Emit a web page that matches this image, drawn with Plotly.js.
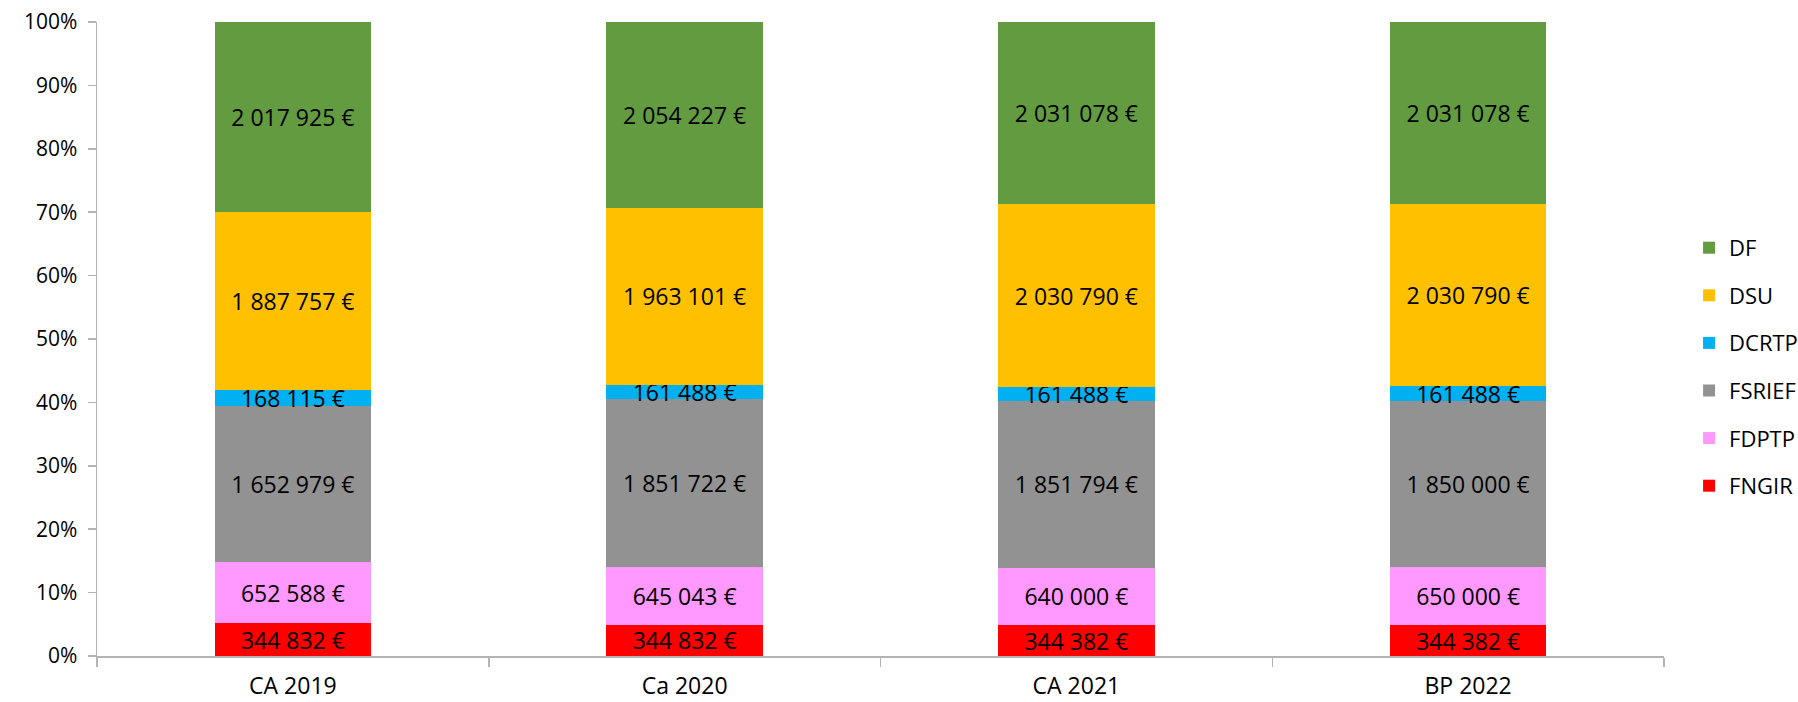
<!DOCTYPE html>
<html>
<head>
<meta charset="utf-8">
<script src="https://cdn.plot.ly/plotly-3.0.1.min.js"></script>
<style>html,body{margin:0;padding:0;background:#fff;}#chart{width:1798px;height:702px;}</style>
</head>
<body>
<div id="chart"></div>
<script>
const categories = ["CA 2019", "Ca 2020", "CA 2021", "BP 2022"];
const seriesNames = ["FNGIR", "FDPTP", "FSRIEF", "DCRTP", "DSU", "DF"];
const FNGIR  = [344832, 344832, 344382, 344382];
const FDPTP  = [652588, 645043, 640000, 650000];
const FSRIEF = [1652979, 1851722, 1851794, 1850000];
const DCRTP  = [168115, 161488, 161488, 161488];
const DSU    = [1887757, 1963101, 2030790, 2030790];
const DF     = [2017925, 2054227, 2031078, 2031078];
const seriesValues = [FNGIR, FDPTP, FSRIEF, DCRTP, DSU, DF];
const colors = ["#ff0000", "#ff99ff", "#929292", "#00b0f0", "#ffc000", "#629b40"];

function fmt(v) {
  return v.toString().replace(/\B(?=(\d{3})+(?!\d))/g, "\u00a0") + "\u00a0€";
}

const FONT = "Open Sans, Noto Sans, sans-serif";
const traces = seriesNames.map((name, i) => ({
  type: "bar",
  name: name,
  x: categories,
  y: seriesValues[i],
  text: seriesValues[i].map(fmt),
  textposition: "inside",
  insidetextanchor: "middle",
  constraintext: "none",
  textangle: 0,
  textfont: {family: FONT, size: 23, color: "#000"},
  marker: {color: colors[i], line: {width: 0}},
  legendgroup: name,
  legendrank: seriesNames.length - i,
  hoverinfo: "none"
}));

const layout = {
  width: 1798, height: 702,
  barmode: "stack",
  barnorm: "percent",
  bargap: 0.6,
  margin: {l: 97, r: 134, t: 22, b: 46, autoexpand: false},
  paper_bgcolor: "#fff",
  plot_bgcolor: "#fff",
  font: {family: FONT, size: 21, color: "#000"},
  showlegend: true,
  legend: {
    traceorder: "grouped",
    tracegroupgap: 16,
    x: 1.016, xanchor: "left",
    y: 0.456, yanchor: "middle",
    font: {family: FONT, size: 22, color: "#000"},
    itemwidth: 30
  },
  xaxis: {
    type: "category",
    automargin: false,
    showline: true, linecolor: "#b3b3b3", linewidth: 1.5,
    ticks: "outside", tickson: "boundaries", ticklen: 9, tickcolor: "#b3b3b3", tickwidth: 1.5,
    showgrid: false, zeroline: false,
    tickfont: {family: FONT, size: 23, color: "#000"},
    ticklabelstandoff: 9
  },
  yaxis: {
    range: [0, 100],
    automargin: false,
    dtick: 10,
    ticksuffix: "%",
    showline: true, linecolor: "#b3b3b3", linewidth: 1.5,
    ticks: "outside", ticklen: 8, tickcolor: "#b3b3b3", tickwidth: 1.5,
    showgrid: false, zeroline: false,
    tickfont: {family: FONT, size: 21, color: "#000"},
    ticklabelstandoff: 6
  }
};

Plotly.newPlot("chart", traces, layout, {staticPlot: true, displayModeBar: false});
</script>
</body>
</html>
